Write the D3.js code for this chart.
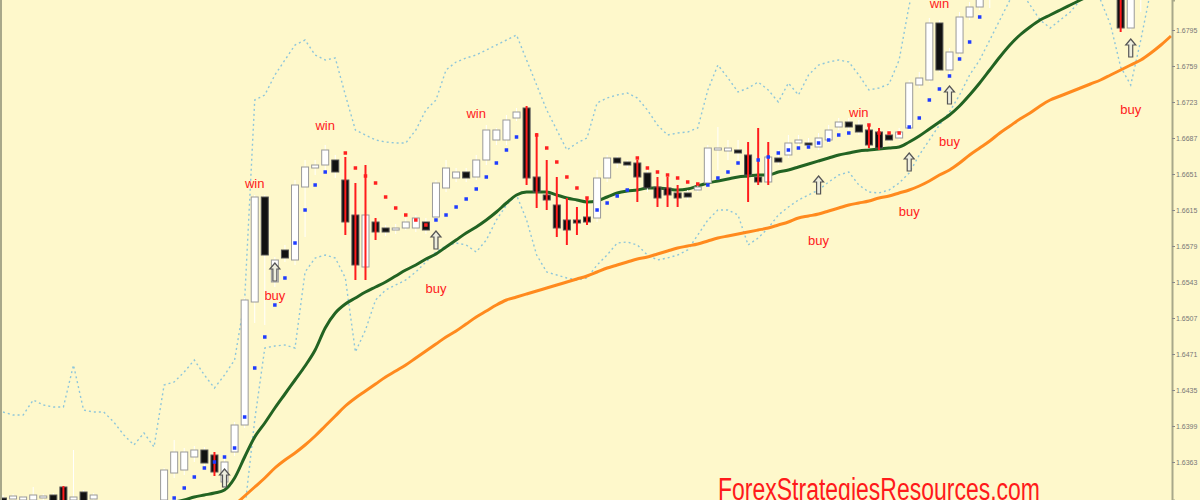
<!DOCTYPE html>
<html>
<head>
  <style>
    body { margin: 0; background: #fef8cb; }
    svg { display: block; }
  </style>
</head>
<body>
  <svg id="chart" width="1200" height="500"></svg>
  <script src="https://d3js.org/d3.v7.min.js"></script>
  <script>
    // candles, one per bar index (0..115)
    const open = [1.6327,1.6326,1.6325,1.6325,1.6327,1.6330,1.6338,1.6325,1.6333,1.6326,
      1.6320,1.6319,1.6318,1.6320,1.6317,1.6315,1.6325,1.6352,1.6355,1.6368,
      1.6375,1.6370,1.6343,1.6373,1.6400,1.6523,1.6628,1.6543,1.6575,1.6565,
      1.6638,1.6657,1.6660,1.6665,1.6645,1.6610,1.6558,1.6603,1.6597,1.6595,
      1.6597,1.6597,1.6603,1.6608,1.6637,1.6647,1.6653,1.6648,1.6665,1.6685,
      1.6685,1.6707,1.6717,1.6648,1.6630,1.6620,1.6605,1.6605,1.6608,1.6607,
      1.6647,1.6667,1.6663,1.6662,1.6652,1.6638,1.6637,1.6632,1.6632,1.6635,
      1.6642,1.6675,1.6674,1.6675,1.6670,1.6648,1.6643,1.6667,1.6670,1.6682,
      1.6682,1.6678,1.6685,1.6698,1.6703,1.6700,1.6695,1.6693,1.6690,1.6687,
      1.6697,1.6740,1.6745,1.6802,1.6755,1.6772,1.6808,1.6818,1.6835,1.6850,
      1.6865,1.6880,1.6885,1.6900,1.6890,1.6905,1.6895,1.6885,1.6875,1.6865,
      1.6855,1.6845,1.6797,1.6835,1.6850,1.6860];
    const high = [1.6330,1.6331,1.6329,1.6338,1.6331,1.6332,1.6339,1.6375,1.6335,1.6332,
      1.6324,1.6323,1.6322,1.6323,1.6322,1.6324,1.6357,1.6385,1.6377,1.6379,
      1.6378,1.6373,1.6367,1.6403,1.6527,1.6630,1.6630,1.6568,1.6580,1.6645,
      1.6665,1.6665,1.6680,1.6670,1.6668,1.6642,1.6660,1.6607,1.6600,1.6601,
      1.6607,1.6610,1.6607,1.6645,1.6665,1.6657,1.6657,1.6670,1.6700,1.6697,
      1.6710,1.6717,1.6719,1.6692,1.6665,1.6648,1.6627,1.6618,1.6627,1.6655,
      1.6670,1.6669,1.6665,1.6665,1.6655,1.6648,1.6648,1.6640,1.6635,1.6640,
      1.6680,1.6698,1.6685,1.6685,1.6683,1.6697,1.6683,1.6675,1.6690,1.6690,
      1.6687,1.6692,1.6700,1.6707,1.6707,1.6705,1.6699,1.6697,1.6695,1.6697,
      1.6745,1.6753,1.6807,1.6805,1.6777,1.6813,1.6823,1.6840,1.6855,1.6870,
      1.6885,1.6895,1.6905,1.6910,1.6915,1.6913,1.6900,1.6893,1.6883,1.6870,
      1.6860,1.6850,1.6840,1.6855,1.6865,1.6875];
    const low = [1.6315,1.6317,1.6319,1.6320,1.6321,1.6319,1.6317,1.6320,1.6319,1.6322,
      1.6315,1.6313,1.6313,1.6313,1.6310,1.6310,1.6320,1.6347,1.6350,1.6363,
      1.6359,1.6349,1.6337,1.6369,1.6397,1.6502,1.6500,1.6538,1.6563,1.6560,
      1.6588,1.6650,1.6655,1.6647,1.6590,1.6545,1.6545,1.6585,1.6589,1.6591,
      1.6595,1.6593,1.6591,1.6603,1.6633,1.6643,1.6643,1.6645,1.6660,1.6680,
      1.6680,1.6704,1.6640,1.6617,1.6615,1.6588,1.6580,1.6590,1.6600,1.6603,
      1.6643,1.6657,1.6657,1.6623,1.6633,1.6618,1.6618,1.6618,1.6625,1.6633,
      1.6639,1.6655,1.6665,1.6665,1.6623,1.6640,1.6640,1.6660,1.6667,1.6679,
      1.6677,1.6675,1.6682,1.6695,1.6695,1.6690,1.6677,1.6675,1.6682,1.6685,
      1.6695,1.6737,1.6743,1.6753,1.6751,1.6769,1.6805,1.6815,1.6817,1.6845,
      1.6860,1.6873,1.6880,1.6885,1.6885,1.6887,1.6875,1.6865,1.6855,1.6845,
      1.6835,1.6793,1.6795,1.6813,1.6840,1.6850];
    const close = [1.6320,1.6329,1.6328,1.6330,1.6329,1.6323,1.6323,1.6328,1.6323,1.6330,
      1.6322,1.6321,1.6320,1.6317,1.6320,1.6322,1.6355,1.6373,1.6373,1.6375,
      1.6362,1.6353,1.6363,1.6400,1.6525,1.6628,1.6570,1.6565,1.6567,1.6640,
      1.6658,1.6660,1.6675,1.6653,1.6603,1.6560,1.6610,1.6593,1.6593,1.6597,
      1.6603,1.6607,1.6595,1.6642,1.6657,1.6653,1.6647,1.6665,1.6695,1.6695,
      1.6705,1.6713,1.6647,1.6633,1.6625,1.6597,1.6595,1.6602,1.6603,1.6647,
      1.6667,1.6662,1.6660,1.6648,1.6637,1.6627,1.6630,1.6627,1.6628,1.6638,
      1.6677,1.6677,1.6677,1.6672,1.6650,1.6643,1.6668,1.6663,1.6682,1.6685,
      1.6680,1.6687,1.6695,1.6703,1.6698,1.6693,1.6680,1.6677,1.6685,1.6693,
      1.6742,1.6747,1.6802,1.6755,1.6773,1.6808,1.6818,1.6835,1.6850,1.6865,
      1.6880,1.6885,1.6900,1.6890,1.6905,1.6895,1.6885,1.6875,1.6865,1.6855,
      1.6845,1.6797,1.6835,1.6850,1.6860,1.6865];

    // bars marked by the red signal histogram
    const redBars = [6,21,34,35,36,37,52,53,54,55,56,57,58,63,65,66,67,74,75,76,86,87,111];

    // moving averages (first value belongs to the start index)
    const maFastStart = 17;
    const maFast = [1.6323,1.6325,1.6328,1.6330,1.6332,1.6335,1.6347,1.6368,1.6388,1.6402,
      1.6417,1.6431,1.6445,1.6459,1.6475,1.6497,1.6512,1.6521,1.6527,1.6533,
      1.6538,1.6543,1.6549,1.6555,1.6560,1.6566,1.6571,1.6578,1.6585,1.6592,
      1.6598,1.6605,1.6613,1.6622,1.6630,1.6633,1.6633,1.6633,1.6630,1.6627,
      1.6625,1.6623,1.6624,1.6628,1.6632,1.6634,1.6635,1.6637,1.6637,1.6636,
      1.6635,1.6636,1.6639,1.6642,1.6644,1.6646,1.6648,1.6649,1.6650,1.6650,
      1.6653,1.6655,1.6658,1.6661,1.6664,1.6667,1.6670,1.6672,1.6674,1.6675,
      1.6676,1.6677,1.6678,1.6683,1.6689,1.6696,1.6703,1.6710,1.6719,1.6730,
      1.6742,1.6755,1.6768,1.6780,1.6790,1.6798,1.6805,1.6810,1.6815,1.6820,
      1.6825,1.6830,1.6835,1.6840,1.6845,1.6850,1.6855,1.6860,1.6865,1.6870];
    const maSlowStart = 23;
    const maSlow = [1.6320,1.6329,1.6338,1.6347,1.6357,1.6365,1.6372,1.6380,1.6389,1.6399,
      1.6409,1.6419,1.6427,1.6434,1.6441,1.6448,1.6454,1.6460,1.6467,1.6474,
      1.6481,1.6488,1.6494,1.6501,1.6508,1.6514,1.6520,1.6525,1.6528,1.6531,
      1.6534,1.6537,1.6540,1.6543,1.6546,1.6549,1.6553,1.6557,1.6560,1.6563,
      1.6566,1.6568,1.6571,1.6574,1.6577,1.6579,1.6581,1.6584,1.6587,1.6589,
      1.6591,1.6593,1.6595,1.6597,1.6600,1.6603,1.6607,1.6609,1.6611,1.6614,
      1.6617,1.6620,1.6622,1.6624,1.6627,1.6629,1.6632,1.6635,1.6639,1.6644,
      1.6650,1.6655,1.6662,1.6670,1.6677,1.6684,1.6692,1.6699,1.6706,1.6712,
      1.6719,1.6725,1.6729,1.6733,1.6737,1.6741,1.6745,1.6750,1.6755,1.6760,
      1.6765,1.6772,1.6780,1.6789];

    // envelope bands, index 0..116
    const bandUpper = [1.6413,1.6410,1.6410,1.6425,1.6420,1.6418,1.6418,1.6460,1.6415,1.6413,
      1.6413,1.6403,1.6390,1.6380,1.6392,1.6378,1.6440,1.6443,1.6453,1.6465,
      1.6450,1.6437,1.6450,1.6465,1.6525,1.6725,1.6730,1.6750,1.6765,1.6780,
      1.6785,1.6770,1.6765,1.6767,1.6730,1.6695,1.6690,1.6685,1.6683,1.6682,
      1.6682,1.6695,1.6715,1.6725,1.6755,1.6763,1.6767,1.6770,1.6775,1.6780,
      1.6785,1.6790,1.6765,1.6740,1.6715,1.6695,1.6675,1.6682,1.6687,1.6722,
      1.6727,1.6730,1.6732,1.6727,1.6715,1.6700,1.6690,1.6692,1.6693,1.6697,
      1.6735,1.6760,1.6747,1.6733,1.6737,1.6743,1.6735,1.6723,1.6742,1.6730,
      1.6750,1.6760,1.6763,1.6765,1.6763,1.6750,1.6735,1.6737,1.6741,1.6765,
      1.6820,1.6855,1.6870,1.6880,1.6890,1.6900,1.6905,1.6910,1.6920,1.6930,
      1.6940,1.6950,1.6955,1.6960,1.6965,1.6970,1.6970,1.6965,1.6960,1.6955,
      1.6950,1.6945,1.6940,1.6935,1.6930,1.6925,1.6920];
    const bandLower = [1.6285,1.6283,1.6280,1.6282,1.6280,1.6278,1.6275,1.6270,1.6272,1.6275,
      1.6278,1.6280,1.6283,1.6285,1.6287,1.6290,1.6285,1.6280,1.6282,1.6285,
      1.6290,1.6293,1.6295,1.6297,1.6315,1.6405,1.6477,1.6479,1.6480,1.6477,
      1.6553,1.6567,1.6570,1.6567,1.6547,1.6473,1.6495,1.6525,1.6535,1.6540,
      1.6545,1.6553,1.6563,1.6573,1.6579,1.6582,1.6580,1.6573,1.6585,1.6605,
      1.6620,1.6630,1.6605,1.6570,1.6553,1.6550,1.6547,1.6545,1.6547,1.6560,
      1.6570,1.6582,1.6583,1.6580,1.6570,1.6565,1.6567,1.6570,1.6575,1.6590,
      1.6605,1.6615,1.6615,1.6610,1.6580,1.6587,1.6597,1.6610,1.6618,1.6625,
      1.6630,1.6635,1.6643,1.6650,1.6653,1.6640,1.6633,1.6632,1.6635,1.6642,
      1.6652,1.6670,1.6685,1.6700,1.6713,1.6730,1.6750,1.6765,1.6785,1.6805,
      1.6825,1.6835,1.6820,1.6805,1.6797,1.6805,1.6813,1.6825,1.6835,1.6825,
      1.6800,1.6758,1.6740,1.6785,1.6835,1.6855,1.6865];

    // parabolic SAR dots [bar index, price]
    const sarBuy = [[17,1.6327],[18,1.6337],[19,1.6348],[20,1.6357],[21,1.6363],[22,1.6368],[23,1.6377],
      [24,1.6408],[25,1.6457],[26,1.6488],[27,1.6520],[28,1.6547],[29,1.6582],[30,1.6615],[31,1.6640],[32,1.6653],
      [43,1.6605],[44,1.6610],[45,1.6618],[46,1.6626],[47,1.6636],[48,1.6648],[49,1.6662],[50,1.6675],[51,1.6688],
      [59,1.6615],[60,1.6622],[61,1.6629],[62,1.6635],
      [70,1.6640],[71,1.6647],[72,1.6653],[73,1.6662],[75,1.6665],[76,1.6668],[77,1.6672],[78,1.6675],
      [79,1.6677],[80,1.6678],[81,1.6682],[82,1.6685],[83,1.6690],[84,1.6692],
      [90,1.6698],[91,1.6707],[92,1.6725],[93,1.6736],[94,1.6749],[95,1.6766],[96,1.6783],[97,1.6808]];
    const sarSell = [[34,1.6672],[35,1.6657],[36,1.6649],[37,1.6642],[38,1.6628],[39,1.6617],[40,1.6610],
      [41,1.6605],[42,1.6600],[53,1.6690],[54,1.6677],[55,1.6663],[56,1.6648],[57,1.6637],[58,1.6627],
      [63,1.6667],[64,1.6657],[65,1.6653],[66,1.6650],[67,1.6647],[68,1.6643],[69,1.6641],
      [86,1.6700],[87,1.6692],[88,1.6692],[89,1.6692]];

    // signal arrows and text marks
    const arrowIdx = [22,27,43,81,90,94,112];
    const arrowPrice = [1.6347,1.6553,1.6585,1.6640,1.6663,1.6730,1.6777];
    const markText = ["win","win","win","win","win","buy","buy","buy","buy","buy","buy"];
    const markIdx = [25,32,47,85,93,27,43,81,90,94,112];
    const markPrice = [1.6637,1.6695,1.6707,1.6708,1.6817,1.6525,1.6532,1.6580,1.6609,1.6679,1.6711];

    const tickValues = [1.6795,1.6759,1.6723,1.6687,1.6651,1.6615,1.6579,1.6543,1.6507,1.6471,1.6435,1.6399,1.6363];

    const svg = d3.select("#chart");
    const plotRight = 1172;
    const x = d3.scaleLinear().domain([0, 116]).range([3, 1171]);
    const y = d3.scaleLinear().domain([1.6825, 1.6325]).range([0, 500]);

    svg.append("rect").attr("width", 1200).attr("height", 500).attr("fill", "#fef8cb");
    svg.append("clipPath").attr("id", "plot")
      .append("rect").attr("x", 0).attr("y", 0).attr("width", plotRight).attr("height", 500);
    const g = svg.append("g").attr("clip-path", "url(#plot)");

    const bandLine = d3.line().x((d, i) => x(i)).y(d => y(d));
    [bandUpper, bandLower].forEach(b => {
      g.append("path").attr("d", bandLine(b))
        .attr("fill", "none").attr("stroke", "#8ec6da").attr("stroke-width", 1.4)
        .attr("stroke-dasharray", "2,3");
    });

    const maLine = start => d3.line().curve(d3.curveMonotoneX)
      .x((d, i) => x(i + start)).y(d => y(d));
    g.append("path").attr("d", maLine(maSlowStart)(maSlow))
      .attr("fill", "none").attr("stroke", "#ff8a1e").attr("stroke-width", 3);
    g.append("path").attr("d", maLine(maFastStart)(maFast))
      .attr("fill", "none").attr("stroke", "#226322").attr("stroke-width", 3);

    const bars = d3.range(open.length);
    const bw = 7;
    g.selectAll(".wick").data(bars).enter().append("line")
      .attr("x1", i => x(i)).attr("x2", i => x(i))
      .attr("y1", i => y(high[i])).attr("y2", i => y(low[i]))
      .attr("stroke", "#ffffff").attr("stroke-width", 1);
    g.selectAll(".body").data(bars).enter().append("rect")
      .attr("x", i => x(i) - bw / 2)
      .attr("y", i => y(Math.max(open[i], close[i])))
      .attr("width", bw)
      .attr("height", i => Math.max(1.5, Math.abs(y(open[i]) - y(close[i]))))
      .attr("fill", i => close[i] >= open[i] ? "#ffffff" : "#111111")
      .attr("stroke", i => close[i] >= open[i] ? "#9a9a9a" : "#555555")
      .attr("stroke-width", 1);
    g.selectAll(".sig").data(redBars).enter().append("line")
      .attr("x1", i => x(i)).attr("x2", i => x(i))
      .attr("y1", i => y(high[i])).attr("y2", i => y(low[i]))
      .attr("stroke", "#ff1c1c").attr("stroke-width", 2);

    g.selectAll(".sarb").data(sarBuy).enter().append("rect")
      .attr("x", d => x(d[0]) - 1.75).attr("y", d => y(d[1]) - 1.75)
      .attr("width", 3.5).attr("height", 3.5).attr("fill", "#1f3cff");
    g.selectAll(".sars").data(sarSell).enter().append("rect")
      .attr("x", d => x(d[0]) - 1.75).attr("y", d => y(d[1]) - 1.75)
      .attr("width", 3.5).attr("height", 3.5).attr("fill", "#ff2020");

    const arrowPath = "M0,-9 L5,-3 L2,-3 L2,9 L-2,9 L-2,-3 L-5,-3 Z";
    g.selectAll(".arrow").data(arrowIdx).enter().append("path")
      .attr("d", arrowPath)
      .attr("transform", (d, k) => `translate(${x(d)},${y(arrowPrice[k])})`)
      .attr("fill", "#eeeede").attr("stroke", "#555").attr("stroke-width", 1.2);

    g.selectAll(".mark").data(markIdx).enter().append("text")
      .attr("x", d => x(d)).attr("y", (d, k) => y(markPrice[k]))
      .attr("text-anchor", "middle")
      .attr("font-family", "Liberation Sans, Arial, sans-serif").attr("font-size", 13)
      .attr("fill", "#ff2020")
      .text((d, k) => markText[k]);

    svg.append("text")
      .attr("x", 718).attr("y", 500)
      .attr("font-family", "Liberation Sans, Arial, sans-serif").attr("font-size", 31)
      .attr("textLength", 322).attr("lengthAdjust", "spacingAndGlyphs")
      .attr("fill", "#ff1a1a")
      .text("ForexStrategiesResources.com");

    svg.append("line").attr("x1", 1).attr("x2", 1).attr("y1", 0).attr("y2", 500)
      .attr("stroke", "#a8a88a").attr("stroke-width", 2);

    const axis = d3.axisRight(y).tickValues(tickValues).tickSize(3).tickFormat(d3.format(".4f"));
    const ax = svg.append("g").attr("transform", `translate(${plotRight},0)`).call(axis);
    ax.select(".domain").attr("stroke", "#a8a88a").attr("stroke-width", 2);
    ax.selectAll(".tick line").attr("stroke", "#888");
    ax.selectAll(".tick text").attr("fill", "#777").attr("font-size", 7)
      .attr("font-family", "Liberation Sans, Arial, sans-serif").attr("x", 4);
  </script>
</body>
</html>
